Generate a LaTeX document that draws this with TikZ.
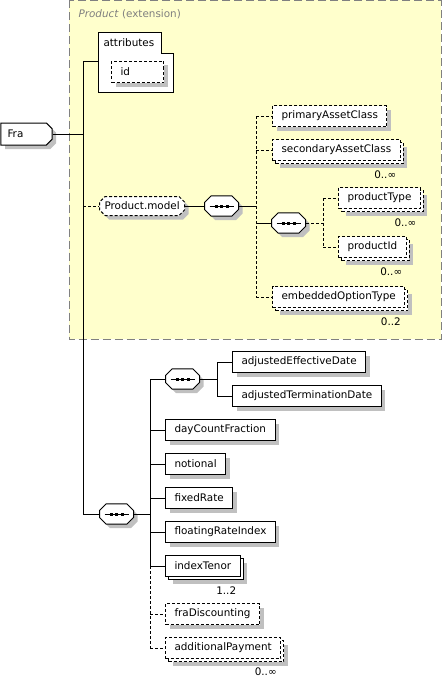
\documentclass[tikz,border=0pt]{standalone}
\usepackage{fontspec}
\setmainfont{DejaVu Sans}
\usepackage{tikz}
\usetikzlibrary{shapes.misc,shadows,positioning}
\definecolor{extyellow}{RGB}{255,255,204}
\definecolor{extgray}{RGB}{128,128,128}
\definecolor{shadowgray}{RGB}{192,192,192}
\newcommand{\xsdfont}{\fontsize{10.4pt}{12pt}\selectfont}

\begin{document}
\begin{tikzpicture}[x=1pt,y=-1pt,line width=1pt,
  dsh/.style={dash pattern=on 3pt off 2pt},
  shd/.style={general shadow={shadow xshift=4pt,shadow yshift=-4pt,fill=shadowgray,draw=none}},
  box/.style={draw,fill=white,anchor=west,font=\xsdfont,inner xsep=9pt,inner ysep=0pt,minimum height=21pt},
  el/.style={box,shd},
  opt/.style={el,dsh},
  many/.style={box,general shadow={shadow xshift=7pt,shadow yshift=-7pt,fill=shadowgray,draw=none},
    general shadow={shadow xshift=3pt,shadow yshift=-3pt,draw,fill=white}},
  optmany/.style={many,dsh},
  mult/.style={font=\xsdfont,inner sep=0pt,anchor=east},
  seq/.style={draw,fill=white,anchor=west,chamfered rectangle,chamfered rectangle xsep=3pt,
    inner xsep=14pt,inner ysep=6.5pt,shd,
    path picture={
      \draw[black] ([xshift=5pt]path picture bounding box.west) -- ([xshift=-5pt]path picture bounding box.east);
      \foreach \dx in {-5.5,0,5.5}
        \fill[black] ([xshift=\dx pt]path picture bounding box.center) +(-1.5,-1.5) rectangle +(1.5,1.5);
    }}]
\useasboundingbox (0,0) rectangle (443,677);

\draw[extgray,dash pattern=on 8pt off 4pt,fill=extyellow] (69,0.5) rectangle (441,339);
\node[anchor=west,font=\xsdfont,text=extgray,inner sep=0pt] (exttitle) at (78,14) {\textit{Product} (extension)};

\node[box,shd,chamfered rectangle,chamfered rectangle corners={north east,south east},
  chamfered rectangle xsep=2pt,minimum height=22pt,text width=38pt,
  align=left,inner xsep=4.5pt] (fra) at (0.5,134) {Fra};

\draw[fill=white] (98,33) -- (161,33) -- (161,54) -- (173,54) -- (173,92) -- (98,92) -- cycle;
\node[anchor=west,font=\xsdfont,inner sep=0pt] (attrlbl) at (103,43) {attributes};
\coordinate (attr) at (98,62);
\node[opt,text width=34pt,align=left] (id) at (111,72) {id};

\node[box,shd,dsh,chamfered rectangle,chamfered rectangle xsep=2pt,minimum height=19pt,
  inner xsep=3pt] (model) at (99,206) {Product.model};
\node[seq] (seqA) at (204,206) {};
\node[opt] (pac) at (272,116) {primaryAssetClass};
\node[optmany] (sac) at (272,150) {secondaryAssetClass};
\node[seq] (seqC) at (271,223) {};
\node[optmany] (ptype) at (338,198) {productType};
\node[optmany] (pid) at (338,247) {productId};
\node[optmany] (eot) at (272,297) {embeddedOptionType};

\node[seq] (seqB) at (99,514) {};
\node[seq] (seqD) at (165,379) {};
\node[el] (aed) at (232,362) {adjustedEffectiveDate};
\node[el] (atd) at (232,396) {adjustedTerminationDate};
\node[el] (dcf) at (165,430) {dayCountFraction};
\node[el] (notl) at (165,464) {notional};
\node[el] (frate) at (165,498) {fixedRate};
\node[el] (fri) at (165,532) {floatingRateIndex};
\node[many] (itenor) at (165,566) {indexTenor};
\node[opt] (fdisc) at (165,614) {fraDiscounting};
\node[optmany] (addpay) at (165,648) {additionalPayment};

\node[mult] (sacm) at ([shift={(-4pt,-14pt)}]sac.south east) {0..∞};
\node[mult] (ptypem) at ([shift={(-4pt,-14pt)}]ptype.south east) {0..∞};
\node[mult] (pidm) at ([shift={(-4pt,-14pt)}]pid.south east) {0..∞};
\node[mult] (eotm) at ([shift={(-4pt,-14pt)}]eot.south east) {0..2};
\node[mult] (itenorm) at ([shift={(-4pt,-14pt)}]itenor.south east) {1..2};
\node[mult] (addpaym) at ([shift={(-4pt,-13pt)}]addpay.south east) {0..∞};

\coordinate (sp) at (83,0);
\coordinate (spA) at (256,0);
\coordinate (spC) at (323,0);
\coordinate (spB) at (150,0);
\coordinate (spD) at (217,0);

\draw (fra.east) -- (fra.east -| sp);
\draw (attr) -- (attr -| sp) -- (seqB.west -| sp) -- (seqB.west);
\draw[dsh] (model.west -| sp) -- (model.west);
\draw (model.east) -- (seqA.west);
\draw (seqA.east) -- (seqA.east -| spA);
\draw[dsh] (pac.west -| spA) -- (eot.west -| spA);
\foreach \n in {pac,sac,eot}
  \draw[dsh] (\n.west -| spA) -- (\n.west);
\draw (seqC.west -| spA) -- (seqC.west);
\draw[dsh] (seqC.east) -- (seqC.east -| spC);
\draw[dsh] (ptype.west -| spC) -- (pid.west -| spC);
\foreach \n in {ptype,pid}
  \draw[dsh] (\n.west -| spC) -- (\n.west);

\draw (seqB.east) -- (seqB.east -| spB);
\draw (seqD.west -| spB) -- (itenor.west -| spB);
\draw[dsh] (itenor.west -| spB) -- (addpay.west -| spB);
\foreach \n in {seqD,dcf,notl,frate,fri,itenor}
  \draw (\n.west -| spB) -- (\n.west);
\foreach \n in {fdisc,addpay}
  \draw[dsh] (\n.west -| spB) -- (\n.west);
\draw (seqD.east) -- (seqD.east -| spD);
\draw (aed.west -| spD) -- (atd.west -| spD);
\foreach \n in {aed,atd}
  \draw (\n.west -| spD) -- (\n.west);
\end{tikzpicture}
\end{document}
